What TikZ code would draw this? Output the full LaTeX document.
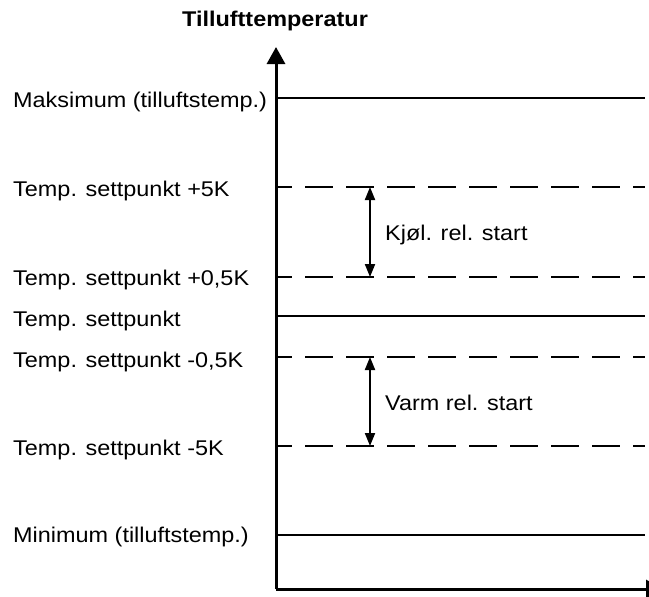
\documentclass[tikz,border=0pt]{standalone}
\usepackage{fontspec}
\setmainfont{Liberation Sans}[FakeStretch=1.1]
\usetikzlibrary{arrows.meta}
\begin{document}
\begin{tikzpicture}[x=1pt,y=-1pt,
  lbl/.style={anchor=base west,inner sep=0pt,font=\fontsize{21.3}{25}\selectfont},
  ttl/.style={anchor=base,inner sep=0pt,font=\bfseries\fontsize{21.3}{25}\selectfont},
  axisline/.style={line width=3pt},
  solidlevel/.style={line width=1.2pt},
  dashlevel/.style={line width=1.2pt,dash pattern=on 28pt off 13pt,dash phase=13pt},
  spanarrow/.style={line width=2pt,{Triangle[length=13pt,width=10pt]}-{Triangle[length=13pt,width=10pt]}},
]
\useasboundingbox (0,0) rectangle (649,597);
\clip (0,0) rectangle (649,597);
% axes
\coordinate (O) at (276,589);
\coordinate (ytop) at (276,47);
\coordinate (xend) at (663,589);
\draw[axisline,-{Triangle[length=17pt,width=18pt]}] (O) -- (ytop);
\draw[axisline,-{Triangle[length=17pt,width=18pt]}] (O) -- (xend);
\node[ttl] (title) at (275,27) {Tillufttemperatur};
% labels
\node[lbl] (lmax) at (13,107) {Maksimum (tilluftstemp.)};
\node[lbl] (lp5) at (13,196) {Temp. settpunkt +5K};
\node[lbl] (lp05) at (13,285) {Temp. settpunkt +0,5K};
\node[lbl] (lsp) at (13,326) {Temp. settpunkt};
\node[lbl] (lm05) at (13,367) {Temp. settpunkt -0,5K};
\node[lbl] (lm5) at (13,455) {Temp. settpunkt -5K};
\node[lbl] (lmin) at (13,542) {Minimum (tilluftstemp.)};
% level lines
\coordinate (maxA) at (277,98);  \coordinate (maxB) at (645,98);
\coordinate (p5A) at (277,187);  \coordinate (p5B) at (645,187);
\coordinate (p05A) at (277,277); \coordinate (p05B) at (645,277);
\coordinate (spA) at (277,316);  \coordinate (spB) at (645,316);
\coordinate (m05A) at (277,357); \coordinate (m05B) at (645,357);
\coordinate (m5A) at (277,446);  \coordinate (m5B) at (645,446);
\coordinate (minA) at (277,535); \coordinate (minB) at (645,535);
\draw[solidlevel] (maxA) -- (maxB);
\draw[dashlevel] (p5A) -- (p5B);
\draw[dashlevel] (p05A) -- (p05B);
\draw[solidlevel] (spA) -- (spB);
\draw[dashlevel] (m05A) -- (m05B);
\draw[dashlevel] (m5A) -- (m5B);
\draw[solidlevel] (minA) -- (minB);
% span arrows
\coordinate (k1) at (370,187); \coordinate (k2) at (370,277);
\coordinate (v1) at (370,357); \coordinate (v2) at (370,446);
\draw[spanarrow] (k1) -- (k2);
\draw[spanarrow] (v1) -- (v2);
\node[lbl] (kjol) at (385,240) {Kjøl. rel. start};
\node[lbl] (varm) at (385,410) {Varm rel. start};
\end{tikzpicture}
\end{document}
